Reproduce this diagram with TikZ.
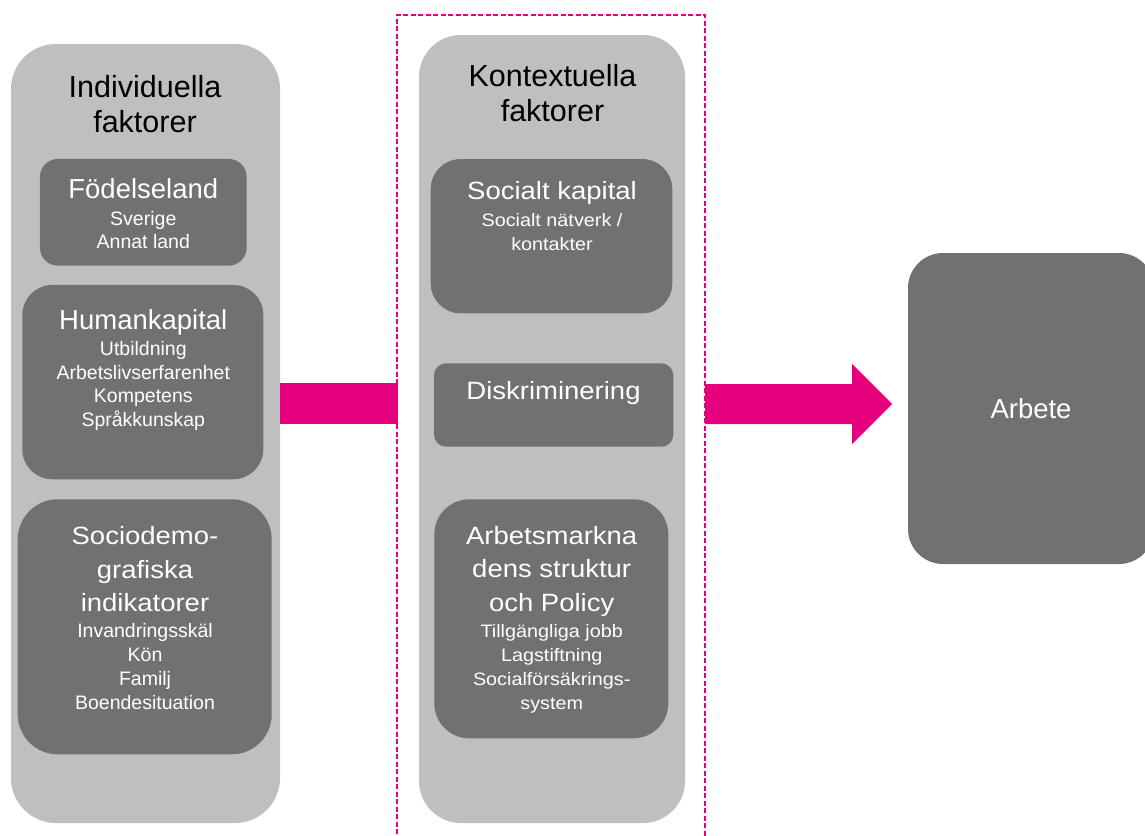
\documentclass[tikz,border=0pt]{standalone}
\usepackage{fontspec}
\usetikzlibrary{calc}
\setmainfont{Liberation Sans}
\newfontfamily\widefont{Liberation Sans}[FakeStretch=1.1]
\definecolor{lgray}{HTML}{BFBFBF}
\definecolor{dgray}{HTML}{717171}
\definecolor{pinkc}{HTML}{E6007E}
\begin{document}
\begin{tikzpicture}[x=1pt,y=-1pt,
  bigbox/.style={fill=lgray, draw=none, inner sep=0pt, outer sep=0pt, rectangle},
  inbox/.style={fill=dgray, draw=none, inner sep=0pt, outer sep=0pt, rectangle},
  ln/.style={anchor=base, inner sep=0pt, outer sep=0pt},
  ttl/.style={ln, text=black, font=\fontsize{30.5}{35}\selectfont},
  hd/.style={ln, text=white, font=\fontsize{27.5}{33}\selectfont},
  hdw/.style={ln, text=white, font=\widefont\fontsize{25}{33}\selectfont},
  sub/.style={ln, text=white, font=\fontsize{19.5}{24}\selectfont},
  subw/.style={ln, text=white, font=\widefont\fontsize{18}{24}\selectfont},
  band/.style={fill=pinkc, draw=none}
]
\useasboundingbox (0,0) rectangle (1145,835);

% big columns
\node[bigbox, minimum width=269pt, minimum height=779pt, rounded corners=45pt] (indiv) at (145.5,433.5) {};
\node[bigbox, minimum width=266pt, minimum height=788pt, rounded corners=42pt] (kontext) at (552,429) {};

% dashed frame
\node[draw=pinkc, dash pattern=on 5pt off 2.5pt, line width=2.2pt, inner sep=0pt, minimum width=308pt, minimum height=835pt] (frame) at (551,432.5) {};

% inner boxes left
\node[inbox, minimum width=206.7pt, minimum height=106.7pt, rounded corners=18pt] (fodel) at (143.3,212.3) {};
\node[inbox, minimum width=241pt, minimum height=194.3pt, rounded corners=30pt] (human) at (142.8,382.1) {};
\node[inbox, minimum width=254pt, minimum height=255pt, rounded corners=40pt] (socio) at (144.7,626.8) {};

% inner boxes middle
\node[inbox, minimum width=241.6pt, minimum height=154.3pt, rounded corners=30pt] (social) at (551.5,236.2) {};
\node[inbox, minimum width=239.3pt, minimum height=83.4pt, rounded corners=12pt] (diskr) at (553.7,405) {};
\node[inbox, minimum width=234pt, minimum height=239pt, rounded corners=35pt] (arbm) at (551.3,618.8) {};

% result box
\node[inbox, minimum width=246pt, minimum height=311pt, rounded corners=35pt, text=white, font=\fontsize{27.5}{33}\selectfont] (arbete) at (1031,408.5) {Arbete};

% arrows
\coordinate (a1s) at (280,403.5);
\coordinate (a1e) at (398,403.5);
\fill[band] ($(a1s)+(0,-20.5)$) rectangle ($(a1e)+(0,20.5)$);
\coordinate (a2s) at (705,404);
\coordinate (a2t) at (892,404);
\fill[band] ($(a2s)+(0,-20)$) -- ++(147,0) -- ++(0,-20) -- (a2t) -- ++(-40,40) -- ++(0,-20) -- ++(-147,0) -- cycle;

% titles
\node[ttl] (t1) at (145,97) {Individuella};
\node[ttl] (t2) at (145,132) {faktorer};
\node[ttl] (k1) at (552.5,86.7) {Kontextuella};
\node[ttl] (k2) at (552.5,121.7) {faktorer};

% Fodelseland
\node[hd] (f1) at (143.3,198.3) {Födelseland};
\node[sub] (f2) at (143.3,225) {Sverige};
\node[sub] (f3) at (143.3,248.3) {Annat land};

% Humankapital
\node[hd] (h1) at (143.3,329.3) {Humankapital};
\node[sub] (h2) at (143.3,355) {Utbildning};
\node[sub] (h3) at (143.3,379) {Arbetslivserfarenhet};
\node[sub] (h4) at (143.3,402.7) {Kompetens};
\node[sub] (h5) at (143.3,426.5) {Språkkunskap};

% Sociodemografiska
\node[hdw] (s1) at (145,544) {Sociodemo-};
\node[hdw] (s2) at (145,578) {grafiska};
\node[hdw] (s3) at (145,611) {indikatorer};
\node[sub] (s4) at (145,637.7) {Invandringsskäl};
\node[sub] (s5) at (145,661) {Kön};
\node[sub] (s6) at (145,685.7) {Familj};
\node[sub] (s7) at (145,709.3) {Boendesituation};

% Socialt kapital
\node[hdw] (c1) at (552,199.3) {Socialt kapital};
\node[subw] (c2) at (552,226.7) {Socialt nätverk /};
\node[subw] (c3) at (552,250) {kontakter};

% Diskriminering
\node[hdw] (d1) at (553.5,399.3) {Diskriminering};

% Arbetsmarknadens
\node[hdw] (m1) at (551.7,544) {Arbetsmarkna};
\node[hdw] (m2) at (551.7,577.3) {dens struktur};
\node[hdw] (m3) at (551.7,611) {och Policy};
\node[subw] (m4) at (551.7,637.3) {Tillgängliga jobb};
\node[subw] (m5) at (551.7,661.7) {Lagstiftning};
\node[subw] (m6) at (551.7,685.7) {Socialförsäkrings-};
\node[subw] (m7) at (551.7,709.3) {system};
\end{tikzpicture}
\end{document}
